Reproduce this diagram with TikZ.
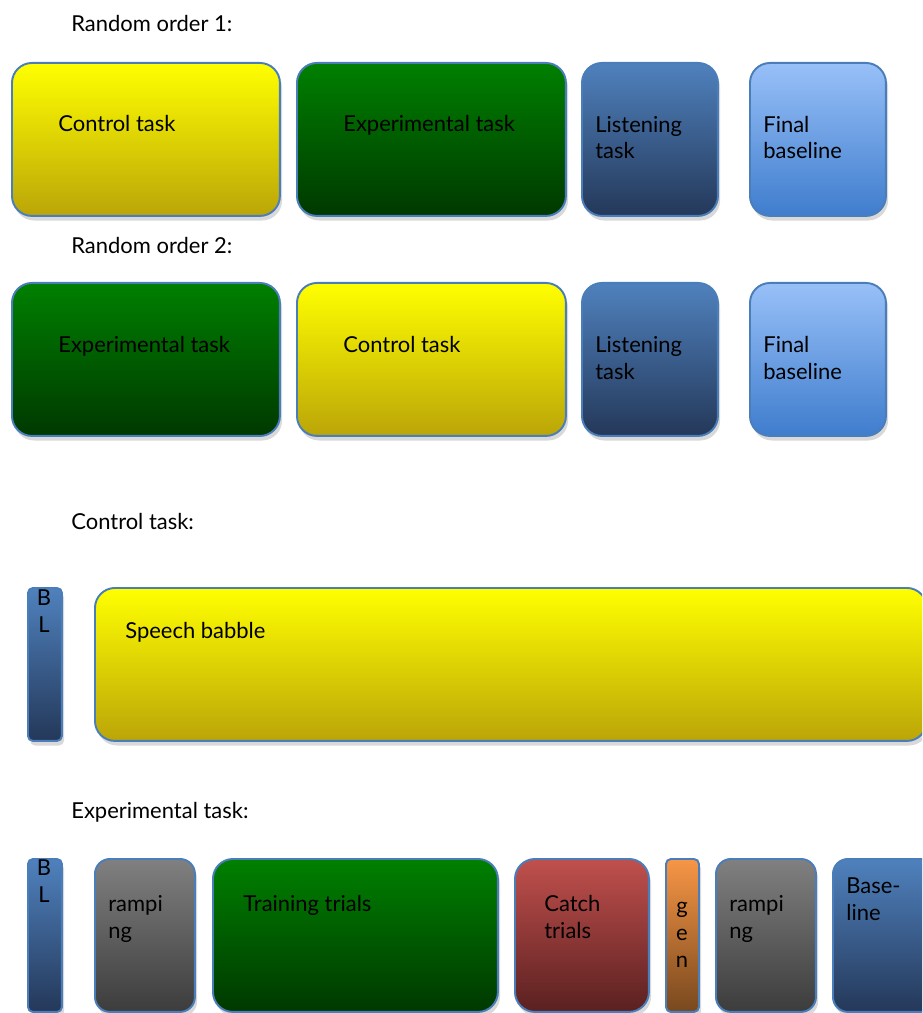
\documentclass[tikz,border=0pt]{standalone}
\usepackage{fontspec}
\setmainfont{Lato}
\usepackage{xcolor}
\usepackage{tikz}
\usetikzlibrary{shadows}

\definecolor{boxline}{RGB}{74,126,187}
\definecolor{yelTop}{RGB}{255,255,0}
\definecolor{yelBot}{RGB}{187,165,8}
\definecolor{grnTop}{RGB}{0,128,0}
\definecolor{grnBot}{RGB}{0,56,0}
\definecolor{bluTop}{RGB}{79,129,189}
\definecolor{bluBot}{RGB}{36,56,89}
\definecolor{skyTop}{RGB}{152,192,248}
\definecolor{skyBot}{RGB}{63,125,205}
\definecolor{gryTop}{RGB}{128,128,128}
\definecolor{gryBot}{RGB}{60,60,60}
\definecolor{redTop}{RGB}{192,80,77}
\definecolor{redBot}{RGB}{90,32,32}
\definecolor{orgTop}{RGB}{247,150,70}
\definecolor{orgBot}{RGB}{120,72,30}

\begin{document}
\begin{tikzpicture}[x=0.02cm,y=-0.02cm,
  box/.style={draw=boxline, line width=1.1pt, rounded corners=0.4cm, anchor=north west,
    inner sep=0pt, minimum height=3.06cm,
    drop shadow={shadow xshift=1.2pt, shadow yshift=-2.6pt, opacity=0.3}},
  yelbox/.style={box, top color=yelTop, bottom color=yelBot},
  grnbox/.style={box, top color=grnTop, bottom color=grnBot},
  blubox/.style={box, top color=bluTop, bottom color=bluBot},
  skybox/.style={box, top color=skyTop, bottom color=skyBot},
  grybox/.style={box, top color=gryTop, bottom color=gryBot, rounded corners=0.3cm},
  redbox/.style={box, top color=redTop, bottom color=redBot},
  orgbox/.style={box, top color=orgTop, bottom color=orgBot, rounded corners=0.1cm},
  thin/.style={minimum width=0.68cm, rounded corners=0.1cm},
  txt/.style={anchor=base west, inner sep=0pt, align=left,
    font=\fontsize{12.5}{15.3}\selectfont},
  vtxt/.style={anchor=base, inner sep=0pt, align=center,
    font=\fontsize{12.5}{15.3}\selectfont},
]
\useasboundingbox (0,0) rectangle (922,1013);
\clip (0,0) rectangle (922,1013);

% random order 1
\node[txt] (ro1) at (71,32) {Random order 1:};
\node[yelbox, minimum width=5.36cm] (ctlA) at (11,62) {};
\node[grnbox, minimum width=5.38cm] (expA) at (296,62) {};
\node[blubox, minimum width=2.72cm] (lisA) at (581,62) {};
\node[skybox, minimum width=2.72cm] (finA) at (749,62) {};
\node[txt] (ctlAt) at (58,132) {Control task};
\node[txt] (expAt) at (343,132) {Experimental task};
\node[txt] (lisAt) at (595,159) {Listening\\task};
\node[txt] (finAt) at (763,159) {Final\\baseline};

% random order 2
\node[txt] (ro2) at (71,254) {Random order 2:};
\node[grnbox, minimum width=5.36cm] (expB) at (11,282) {};
\node[yelbox, minimum width=5.38cm] (ctlB) at (296,282) {};
\node[blubox, minimum width=2.72cm] (lisB) at (581,282) {};
\node[skybox, minimum width=2.72cm] (finB) at (749,282) {};
\node[txt] (expBt) at (58,352) {Experimental task};
\node[txt] (ctlBt) at (343,352) {Control task};
\node[txt] (lisBt) at (595,379) {Listening\\task};
\node[txt] (finBt) at (763,379) {Final\\baseline};

% control task
\node[txt] (ctlhead) at (71,529) {Control task:};
\node[blubox, thin] (blC) at (27,587) {};
\node[yelbox, minimum width=16.64cm] (babble) at (94,587) {};
\node[vtxt] (blCt) at (44,632) {B\\L};
\node[txt] (babblet) at (125,638) {Speech babble};

% experimental task
\node[txt] (exphead) at (71,818) {Experimental task:};
\node[blubox, thin] (blE) at (27,858) {};
\node[grybox, minimum width=2cm] (rampA) at (94,858) {};
\node[grnbox, minimum width=5.7cm] (train) at (212,858) {};
\node[redbox, minimum width=2.68cm] (catch) at (514,858) {};
\node[orgbox, minimum width=0.66cm] (gen) at (665,858) {};
\node[grybox, minimum width=2cm] (rampB) at (715,858) {};
\node[blubox, minimum width=2.56cm, rounded corners=0.3cm] (base) at (832,858) {};
\node[vtxt] (blEt) at (44,902) {B\\L};
\node[txt] (rampAt) at (108,938) {rampi\\ng};
\node[txt] (traint) at (243,911) {Training trials};
\node[txt] (catcht) at (544,938) {Catch\\trials};
\node[vtxt] (gent) at (682,967) {g\\e\\n};
\node[txt] (rampBt) at (729,938) {rampi\\ng};
\node[txt] (baset) at (846,920) {Base-\\line};
\end{tikzpicture}
\end{document}
